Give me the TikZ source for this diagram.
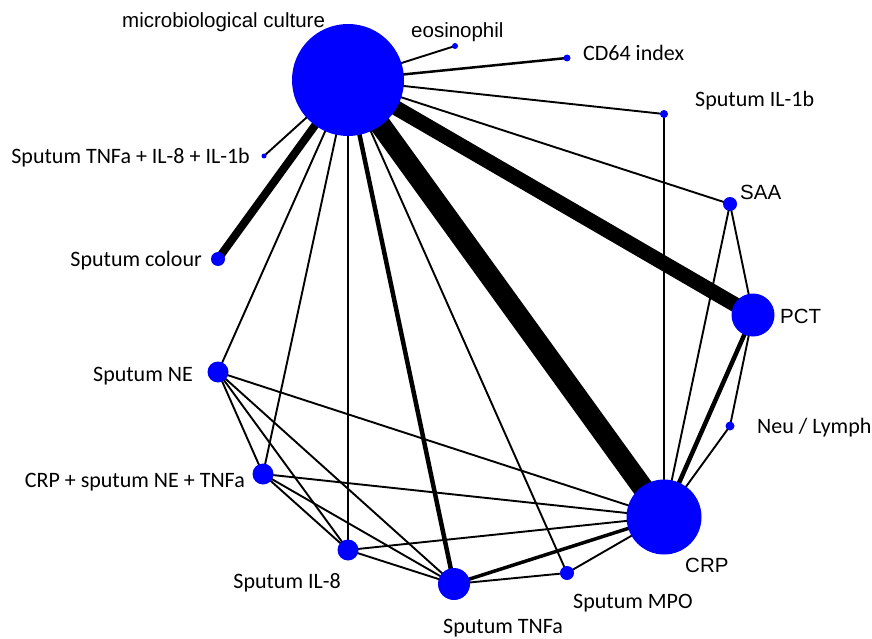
\documentclass[tikz,border=0pt]{standalone}
\usepackage{fontspec}
\setmainfont{Carlito}
\newfontfamily\arialfont{Liberation Sans}
\usepackage{tikz}
\usetikzlibrary{backgrounds}

\begin{document}
\begin{tikzpicture}[
  x=1pt,y=-1pt,
  font=\fontsize{22}{26}\selectfont,
  nd/.style={circle,fill=blue,inner sep=0pt,minimum size=#1},
  lbl/.style={inner sep=0pt},
  albl/.style={inner sep=0pt,font=\arialfont\fontsize{20.5}{24}\selectfont},
  link/.style={line width=1.9pt},
  wide/.style={line width=#1}
]
\path[use as bounding box] (0,0) rectangle (872,639);

% ===================== treatments =====================
\node[nd=112pt] (mc)    at (348,80)  {};
\node[nd=6pt]   (eos)   at (455,46)  {};
\node[nd=7pt]   (cd64)  at (567,58)  {};
\node[nd=8pt]   (il1b)  at (664,114) {};
\node[nd=14pt]  (saa)   at (730,204) {};
\node[nd=43pt]  (pct)   at (753,315) {};
\node[nd=9pt]   (neu)   at (730,426) {};
\node[nd=75pt]  (crp)   at (664,517) {};
\node[nd=14pt]  (mpo)   at (567,573) {};
\node[nd=32pt]  (tnfa)  at (454,584) {};
\node[nd=21pt]  (il8)   at (348,550) {};
\node[nd=21pt]  (crpnt) at (263,474) {};
\node[nd=21pt]  (ne)    at (218,372) {};
\node[nd=14pt]  (col)   at (218,259) {};
\node[nd=5pt]   (til)   at (264,156) {};

% ===================== labels =====================
\node[albl,anchor=base west] (mc-l)    at (122,28)  {microbiological culture};
\node[albl,anchor=base west] (eos-l)   at (411,38)  {eosinophil};
\node[lbl,anchor=base west]  (cd64-l)  at (583,61)  {CD64 index};
\node[lbl,anchor=base west]  (il1b-l)  at (695,107) {Sputum IL-1b};
\node[albl,anchor=base west] (saa-l)   at (740,200) {SAA};
\node[albl,anchor=base west] (pct-l)   at (780,323) {PCT};
\node[lbl,anchor=base west]  (neu-l)   at (757,433) {Neu / Lymph};
\node[albl,anchor=base west] (crp-l)   at (685,572) {CRP};
\node[lbl,anchor=base west]  (mpo-l)   at (573,608) {Sputum MPO};
\node[lbl,anchor=base west]  (tnfa-l)  at (443,633) {Sputum TNFa};
\node[lbl,anchor=base east]  (il8-l)   at (341,588) {Sputum IL-8};
\node[lbl,anchor=base east]  (crpnt-l) at (245,487) {CRP + sputum NE + TNFa};
\node[lbl,anchor=base east]  (ne-l)    at (193,381) {Sputum NE};
\node[lbl,anchor=base east]  (col-l)   at (202,266) {Sputum colour};
\node[lbl,anchor=base east]  (til-l)   at (250,164) {Sputum TNFa + IL-8 + IL-1b};

% ===================== comparisons =====================
\begin{scope}[on background layer]
  % from microbiological culture
  \draw[wide=21pt]  (mc.center) -- (crp.center);
  \draw[wide=15pt]  (mc.center) -- (pct.center);
  \draw[wide=8pt]   (mc.center) -- (col.center);
  \draw[wide=4.5pt] (mc.center) -- (tnfa.center);
  \draw[wide=2.5pt] (mc.center) -- (cd64.center);
  \draw[link] (mc.center) -- (eos.center);
  \draw[link] (mc.center) -- (il1b.center);
  \draw[link] (mc.center) -- (saa.center);
  \draw[link] (mc.center) -- (til.center);
  \draw[link] (mc.center) -- (ne.center);
  \draw[link] (mc.center) -- (crpnt.center);
  \draw[link] (mc.center) -- (il8.center);
  \draw[link] (mc.center) -- (mpo.center);
  % right side
  \draw[link] (il1b.center) -- (crp.center);
  \draw[link] (saa.center) -- (pct.center);
  \draw[link] (saa.center) -- (crp.center);
  \draw[wide=4.5pt] (pct.center) -- (crp.center);
  \draw[link] (pct.center) -- (neu.center);
  \draw[link] (neu.center) -- (crp.center);
  % sputum markers
  \draw[link] (ne.center) -- (crpnt.center);
  \draw[link] (ne.center) -- (il8.center);
  \draw[link] (ne.center) -- (tnfa.center);
  \draw[link] (ne.center) -- (crp.center);
  \draw[link] (crpnt.center) -- (il8.center);
  \draw[link] (crpnt.center) -- (tnfa.center);
  \draw[link] (crpnt.center) -- (crp.center);
  \draw[link] (il8.center) -- (tnfa.center);
  \draw[link] (il8.center) -- (crp.center);
  \draw[link] (tnfa.center) -- (mpo.center);
  \draw[wide=3.5pt] (tnfa.center) -- (crp.center);
  \draw[link] (mpo.center) -- (crp.center);
\end{scope}

\end{tikzpicture}
\end{document}
